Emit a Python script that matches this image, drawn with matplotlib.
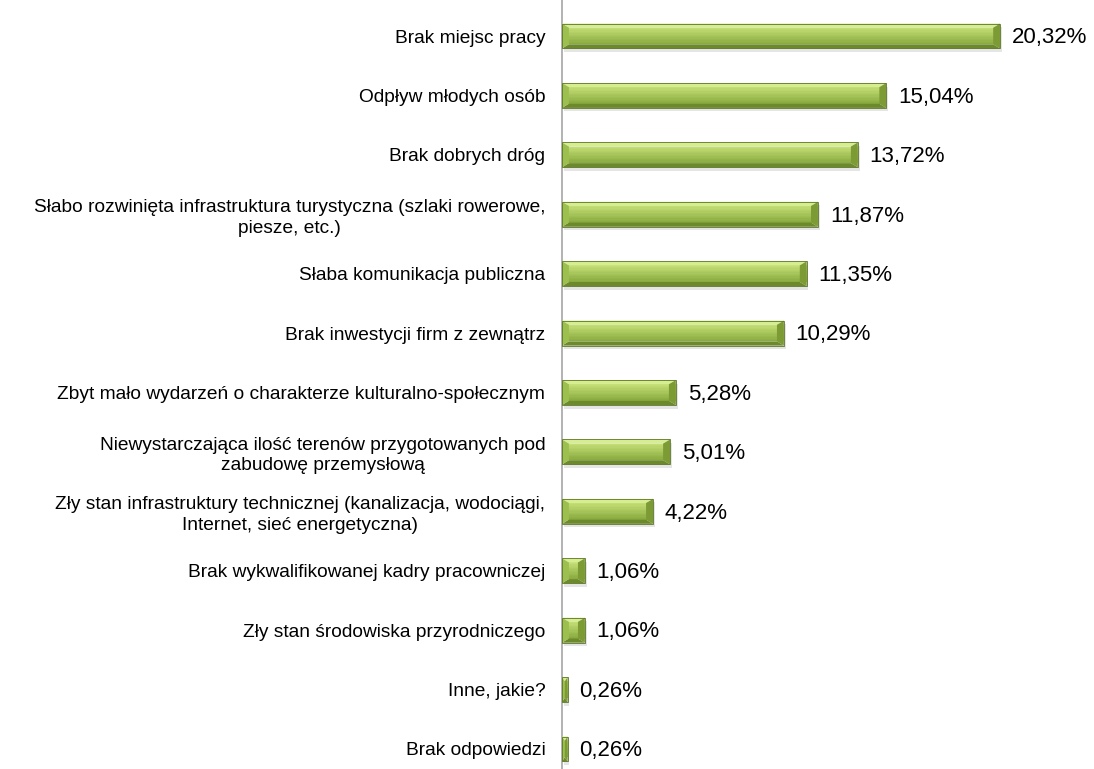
import matplotlib.pyplot as plt
import numpy as np
from matplotlib.patches import Polygon, Rectangle
from matplotlib.colors import to_rgb

categories = [
    'Brak miejsc pracy',
    'Odpływ młodych osób',
    'Brak dobrych dróg',
    'Słabo rozwinięta infrastruktura turystyczna (szlaki rowerowe,\npiesze, etc.)',
    'Słaba komunikacja publiczna',
    'Brak inwestycji firm z zewnątrz',
    'Zbyt mało wydarzeń o charakterze kulturalno-społecznym',
    'Niewystarczająca ilość terenów przygotowanych pod\nzabudowę przemysłową',
    'Zły stan infrastruktury technicznej (kanalizacja, wodociągi,\nInternet, sieć energetyczna)',
    'Brak wykwalifikowanej kadry pracowniczej',
    'Zły stan środowiska przyrodniczego',
    'Inne, jakie?',
    'Brak odpowiedzi',
]
values = [20.32, 15.04, 13.72, 11.87, 11.35, 10.29, 5.28, 5.01, 4.22, 1.06, 1.06, 0.26, 0.26]
value_labels = ['20,32%', '15,04%', '13,72%', '11,87%', '11,35%', '10,29%', '5,28%',
                '5,01%', '4,22%', '1,06%', '1,06%', '0,26%', '0,26%']

plt.rcParams['font.family'] = ['Liberation Sans', 'DejaVu Sans']

fig = plt.figure(figsize=(10.94, 7.69), dpi=100)
ax = fig.add_axes([562 / 1094, 0, 1 - 562 / 1094, 1])

n = len(categories)
bar_h = 0.42
bx = 0.32   # bevel size in x (data units)
by = 0.07   # bevel size in y

grad_top = np.array(to_rgb('#c2dd74'))
grad_bot = np.array(to_rgb('#8aab40'))
top_c = '#d6ed90'
bot_c = '#6c892c'
left_c = '#9dbf50'
right_c = '#7c9b35'
edge = '#5a7524'

for i, v in enumerate(values):
    y0 = i - bar_h / 2   # top (y axis inverted)
    y1 = i + bar_h / 2
    ex = min(bx, v / 2)
    # soft shadow
    ax.add_patch(Rectangle((0.08, y0 + 0.06), v, bar_h, facecolor='#000000',
                           alpha=0.10, edgecolor='none', zorder=1))
    # face with vertical gradient
    strips = 12
    hs = (bar_h - 2 * by) / strips
    for k in range(strips):
        t = k / (strips - 1)
        c = grad_top * (1 - t) + grad_bot * t
        ax.add_patch(Rectangle((0, y0 + by + k * hs), v, hs * 1.05, facecolor=c,
                               edgecolor='none', zorder=2))
    ax.add_patch(Polygon([(0, y0), (v, y0), (v - ex, y0 + by), (ex, y0 + by)],
                         facecolor=top_c, edgecolor='none', zorder=3))
    ax.add_patch(Polygon([(0, y1), (v, y1), (v - ex, y1 - by), (ex, y1 - by)],
                         facecolor=bot_c, edgecolor='none', zorder=3))
    ax.add_patch(Polygon([(0, y0), (ex, y0 + by), (ex, y1 - by), (0, y1)],
                         facecolor=left_c, edgecolor='none', zorder=3))
    ax.add_patch(Polygon([(v, y0), (v - ex, y0 + by), (v - ex, y1 - by), (v, y1)],
                         facecolor=right_c, edgecolor='none', zorder=3))
    ax.add_patch(Rectangle((0, y0), v, bar_h, facecolor='none', edgecolor=edge,
                           linewidth=0.6, zorder=4))
    ax.text(v + 0.55, i + 0.03, value_labels[i], fontsize=16, va='center', ha='left',
            color='#000000')

ax.set_xlim(0, (1094 - 562) / 21.56)
ax.set_ylim(n - 1 + 20 / 59.4, -36 / 59.4)
ax.set_yticks(range(n))
ax.set_yticklabels(categories, fontsize=13.8, multialignment='center', linespacing=1.25)
ax.tick_params(axis='y', length=0, pad=12)
ax.set_xticks([])
for s in ['top', 'right', 'bottom']:
    ax.spines[s].set_visible(False)
ax.spines['left'].set_color('#a6a6a6')
ax.spines['left'].set_linewidth(1.2)

fig.savefig('out.png', dpi=100)
